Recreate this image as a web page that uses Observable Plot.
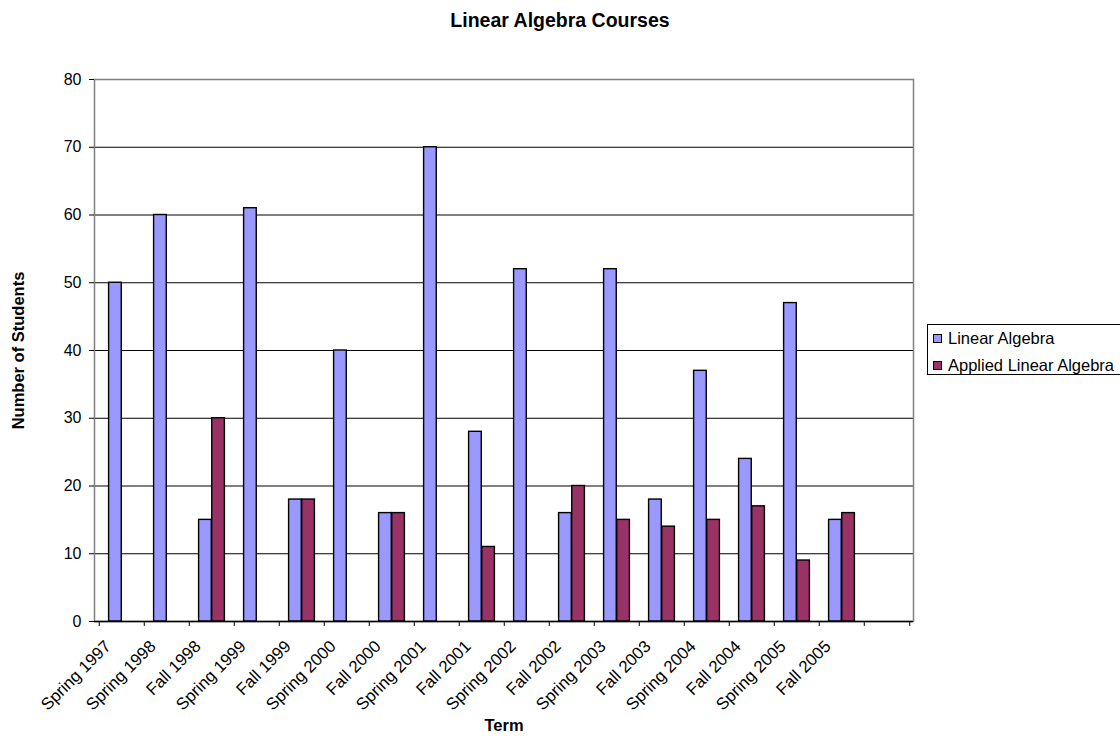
<!DOCTYPE html>
<html>
<head>
<meta charset="utf-8">
<script src="https://cdn.jsdelivr.net/npm/d3@7"></script>
<script src="https://cdn.jsdelivr.net/npm/@observablehq/plot@0.6"></script>
<style>
  html, body { margin: 0; padding: 0; background: #fff; overflow: hidden; }
  #wrap { position: relative; width: 1120px; height: 740px; font-family: "Liberation Sans", Arial, sans-serif; color: #000; }
  #title { position: absolute; left: 0; top: 9px; width: 1120px; text-align: center; font-weight: bold; font-size: 19.5px; z-index: 2; }
  #legend { position: absolute; left: 927px; top: 324px; width: 210px; height: 51px; border: 1px solid #000; background: #fff; box-sizing: border-box; z-index: 2; font-size: 16.5px; }
  .item { position: absolute; left: 5px; height: 20px; line-height: 20px; white-space: nowrap; }
  .sw { display: inline-block; width: 7px; height: 7px; border: 1px solid #000; margin-right: 6px; vertical-align: 1px; }
  #chart { position: absolute; left: 0; top: 0; }
</style>
</head>
<body>
<div id="wrap">
  <div id="title">Linear Algebra Courses</div>
  <div id="chart"></div>
  <div id="legend"></div>
</div>
<script>
// Enrollment per term
const terms = ["Spring 1997", "Spring 1998", "Fall 1998", "Spring 1999", "Fall 1999", "Spring 2000",
  "Fall 2000", "Spring 2001", "Fall 2001", "Spring 2002", "Fall 2002", "Spring 2003",
  "Fall 2003", "Spring 2004", "Fall 2004", "Spring 2005", "Fall 2005"];
const linearAlgebra = [50, 60, 15, 61, 18, 40, 16, 70, 28, 52, 16, 52, 18, 37, 24, 47, 15];
const appliedLinearAlgebra = [null, null, 30, null, 18, null, 16, null, 11, null, 20, 15, 14, 15, 17, 9, 16];
const seriesNames = ["Linear Algebra", "Applied Linear Algebra"];
const seriesColors = ["#9999FF", "#993366"];
const yTicks = [0, 10, 20, 30, 40, 50, 60, 70, 80];

// one empty slot after the last term
const xDomain = [...terms, ""];

const W = 1120, H = 740, mL = 94, mR = 207, mT = 79, mB = 119;
const step = (W - mL - mR) / xDomain.length;
const group = step / 1.73;           // gap width 73%
const side = (step - group) / 2;
const half = step / 2;

const rowsLA = terms.map((t, i) => ({term: t, value: linearAlgebra[i]}));
const rowsALA = terms.map((t, i) => ({term: t, value: appliedLinearAlgebra[i]})).filter(d => d.value != null);

const chart = Plot.plot({
  width: W, height: H,
  marginLeft: mL, marginRight: mR, marginTop: mT, marginBottom: mB,
  style: {fontFamily: "'Liberation Sans', Arial, sans-serif", fontSize: "16px", color: "#000", background: "transparent", overflow: "visible"},
  x: {domain: xDomain, padding: 0, label: null},
  y: {domain: [0, 80], label: null},
  marks: [
    Plot.gridY(yTicks.slice(1, -1), {stroke: "#000", strokeOpacity: 1}),
    Plot.frame({stroke: "#808080", strokeWidth: 1.5}),
    Plot.barY(rowsLA, {x: "term", y: "value", fill: seriesColors[0], stroke: "#000", strokeWidth: 1.4, insetLeft: side, insetRight: step - side - group / 2}),
    Plot.barY(rowsALA, {x: "term", y: "value", fill: seriesColors[1], stroke: "#000", strokeWidth: 1.4, insetLeft: step / 2, insetRight: side}),
    Plot.ruleY([0], {stroke: "#000", strokeWidth: 1.3}),
    Plot.axisY(yTicks, {tickSize: 5, tickPadding: 8, stroke: "#000", strokeOpacity: 1, fontSize: 16, line: true, label: null}),
    Plot.axisX(xDomain, {tickSize: 5, text: null, dx: -half, stroke: "#000", strokeOpacity: 1, label: null}),
    Plot.axisX([""], {tickSize: 5, text: null, dx: half, stroke: "#000", strokeOpacity: 1, label: null}),
    Plot.axisX(terms, {tickSize: 0, tickRotate: -45, tickPadding: 10, dx: -14, dy: 12, fontSize: 16.8, label: null}),
    Plot.text(["Number of Students"], {frameAnchor: "left", dx: -76, rotate: -90, textAnchor: "middle", fontWeight: "bold", fontSize: 16.5}),
    Plot.text(["Term"], {frameAnchor: "bottom", dy: 109, fontWeight: "bold", fontSize: 16.5})
  ]
});
document.getElementById("chart").appendChild(chart);

// legend
const legend = document.getElementById("legend");
seriesNames.forEach((name, i) => {
  const row = document.createElement("div");
  row.className = "item";
  row.style.top = (3 + i * 26.5) + "px";
  const sw = document.createElement("span");
  sw.className = "sw";
  sw.style.background = seriesColors[i];
  row.appendChild(sw);
  row.appendChild(document.createTextNode(name));
  legend.appendChild(row);
});
</script>
</body>
</html>
